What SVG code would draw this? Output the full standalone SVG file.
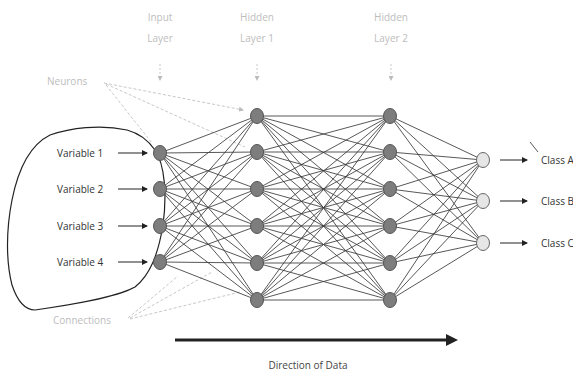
<svg xmlns="http://www.w3.org/2000/svg" width="573" height="374" viewBox="0 0 573 374">
<style>
text{font-family:"Open Sans","Liberation Sans",sans-serif;font-size:10px}
.lbl{fill:#bdbdbd}
.dark{fill:#333}
.c line{stroke:#3a3a3a;stroke-width:0.85}
.n{fill:#7d7d7d;stroke:#555;stroke-width:1}
.o{fill:#e6e6e6;stroke:#666;stroke-width:1}
.arr{stroke:#222;stroke-width:1;marker-end:url(#ah)}
.faint{stroke:#c8c8c8;stroke-width:1;stroke-dasharray:3 2;fill:none}
</style>
<defs>
<marker id="ah" markerWidth="6" markerHeight="6" refX="5" refY="3" orient="auto" markerUnits="userSpaceOnUse"><path d="M0,0 L6,3 L0,6 Z" fill="#222"/></marker>
<marker id="fh" markerWidth="5" markerHeight="5" refX="4" refY="2.5" orient="auto" markerUnits="userSpaceOnUse"><path d="M0,0 L5,2.5 L0,5 Z" fill="#bbb"/></marker>
</defs>
<rect width="573" height="374" fill="#fff"/>
<g id="labels">
<text class="lbl" x="160" y="21" text-anchor="middle">Input</text>
<text class="lbl" x="160" y="42" text-anchor="middle">Layer</text>
<text class="lbl" x="257" y="21" text-anchor="middle">Hidden</text>
<text class="lbl" x="257" y="42" text-anchor="middle">Layer 1</text>
<text class="lbl" x="391" y="21" text-anchor="middle">Hidden</text>
<text class="lbl" x="391" y="42" text-anchor="middle">Layer 2</text>
<line x1="160" y1="64" x2="160" y2="80" stroke="#bbb" stroke-width="0.8" stroke-dasharray="2 2" marker-end="url(#fh)"/>
<line x1="257" y1="64" x2="257" y2="80" stroke="#bbb" stroke-width="0.8" stroke-dasharray="2 2" marker-end="url(#fh)"/>
<line x1="391" y1="64" x2="391" y2="80" stroke="#bbb" stroke-width="0.8" stroke-dasharray="2 2" marker-end="url(#fh)"/>
<text class="lbl" x="47" y="85">Neurons</text>
<line class="faint" x1="104" y1="83" x2="243" y2="110" marker-end="url(#fh)"/>
<line class="faint" x1="106" y1="85" x2="152" y2="143"/>
<line class="faint" x1="106" y1="84" x2="245" y2="147"/>
<text class="lbl" x="53" y="324">Connections</text>
<line class="faint" x1="128" y1="318" x2="178" y2="276"/>
<line class="faint" x1="130" y1="318" x2="212" y2="272"/>
<line class="faint" x1="130" y1="319" x2="240" y2="292"/>
</g>
<path id="blob" d="M127,130 C100,124 70,128 50,135 C30,145 18,170 12,200 C6,230 6,262 12,285 C17,300 25,310 35,310 C70,305 115,298 135,287 C150,275 158,255 163,225 C167,195 165,165 155,150 C148,140 138,133 127,130 Z" fill="none" stroke="#222" stroke-width="1.2"/>
<g id="inputs">
<text class="dark" x="57" y="157">Variable 1</text>
<text class="dark" x="57" y="193">Variable 2</text>
<text class="dark" x="57" y="230">Variable 3</text>
<text class="dark" x="57" y="266">Variable 4</text>
<line class="arr" x1="118" y1="153" x2="147" y2="153"/>
<line class="arr" x1="118" y1="189" x2="147" y2="189"/>
<line class="arr" x1="118" y1="226" x2="147" y2="226"/>
<line class="arr" x1="118" y1="262" x2="147" y2="262"/>
</g>
<g id="connectors" class="c">
<line x1="160" y1="153" x2="257" y2="116"/><line x1="160" y1="153" x2="257" y2="152"/><line x1="160" y1="153" x2="257" y2="189"/><line x1="160" y1="153" x2="257" y2="226"/><line x1="160" y1="153" x2="257" y2="263"/><line x1="160" y1="153" x2="257" y2="300"/>
<line x1="160" y1="189" x2="257" y2="116"/><line x1="160" y1="189" x2="257" y2="152"/><line x1="160" y1="189" x2="257" y2="189"/><line x1="160" y1="189" x2="257" y2="226"/><line x1="160" y1="189" x2="257" y2="263"/><line x1="160" y1="189" x2="257" y2="300"/>
<line x1="160" y1="226" x2="257" y2="116"/><line x1="160" y1="226" x2="257" y2="152"/><line x1="160" y1="226" x2="257" y2="189"/><line x1="160" y1="226" x2="257" y2="226"/><line x1="160" y1="226" x2="257" y2="263"/><line x1="160" y1="226" x2="257" y2="300"/>
<line x1="160" y1="262" x2="257" y2="116"/><line x1="160" y1="262" x2="257" y2="152"/><line x1="160" y1="262" x2="257" y2="189"/><line x1="160" y1="262" x2="257" y2="226"/><line x1="160" y1="262" x2="257" y2="263"/><line x1="160" y1="262" x2="257" y2="300"/>
<line x1="257" y1="116" x2="390" y2="116"/><line x1="257" y1="116" x2="390" y2="152"/><line x1="257" y1="116" x2="390" y2="189"/><line x1="257" y1="116" x2="390" y2="226"/><line x1="257" y1="116" x2="390" y2="263"/><line x1="257" y1="116" x2="390" y2="300"/>
<line x1="257" y1="152" x2="390" y2="116"/><line x1="257" y1="152" x2="390" y2="152"/><line x1="257" y1="152" x2="390" y2="189"/><line x1="257" y1="152" x2="390" y2="226"/><line x1="257" y1="152" x2="390" y2="263"/><line x1="257" y1="152" x2="390" y2="300"/>
<line x1="257" y1="189" x2="390" y2="116"/><line x1="257" y1="189" x2="390" y2="152"/><line x1="257" y1="189" x2="390" y2="189"/><line x1="257" y1="189" x2="390" y2="226"/><line x1="257" y1="189" x2="390" y2="263"/><line x1="257" y1="189" x2="390" y2="300"/>
<line x1="257" y1="226" x2="390" y2="116"/><line x1="257" y1="226" x2="390" y2="152"/><line x1="257" y1="226" x2="390" y2="189"/><line x1="257" y1="226" x2="390" y2="226"/><line x1="257" y1="226" x2="390" y2="263"/><line x1="257" y1="226" x2="390" y2="300"/>
<line x1="257" y1="263" x2="390" y2="116"/><line x1="257" y1="263" x2="390" y2="152"/><line x1="257" y1="263" x2="390" y2="189"/><line x1="257" y1="263" x2="390" y2="226"/><line x1="257" y1="263" x2="390" y2="263"/><line x1="257" y1="263" x2="390" y2="300"/>
<line x1="257" y1="300" x2="390" y2="116"/><line x1="257" y1="300" x2="390" y2="152"/><line x1="257" y1="300" x2="390" y2="189"/><line x1="257" y1="300" x2="390" y2="226"/><line x1="257" y1="300" x2="390" y2="263"/><line x1="257" y1="300" x2="390" y2="300"/>
<line x1="390" y1="116" x2="483" y2="160"/><line x1="390" y1="116" x2="483" y2="201"/><line x1="390" y1="116" x2="483" y2="243"/>
<line x1="390" y1="152" x2="483" y2="160"/><line x1="390" y1="152" x2="483" y2="201"/><line x1="390" y1="152" x2="483" y2="243"/>
<line x1="390" y1="189" x2="483" y2="160"/><line x1="390" y1="189" x2="483" y2="201"/><line x1="390" y1="189" x2="483" y2="243"/>
<line x1="390" y1="226" x2="483" y2="160"/><line x1="390" y1="226" x2="483" y2="201"/><line x1="390" y1="226" x2="483" y2="243"/>
<line x1="390" y1="263" x2="483" y2="160"/><line x1="390" y1="263" x2="483" y2="201"/><line x1="390" y1="263" x2="483" y2="243"/>
<line x1="390" y1="300" x2="483" y2="160"/><line x1="390" y1="300" x2="483" y2="201"/><line x1="390" y1="300" x2="483" y2="243"/>
</g>
<g id="input-layer">
<ellipse class="n" cx="160" cy="153" rx="6.5" ry="7.5"/>
<ellipse class="n" cx="160" cy="189" rx="6.5" ry="7.5"/>
<ellipse class="n" cx="160" cy="226" rx="6.5" ry="7.5"/>
<ellipse class="n" cx="160" cy="262" rx="6.5" ry="7.5"/>
</g>
<g id="hidden-layer-1">
<ellipse class="n" cx="257" cy="116" rx="6.5" ry="7.5"/>
<ellipse class="n" cx="257" cy="152" rx="6.5" ry="7.5"/>
<ellipse class="n" cx="257" cy="189" rx="6.5" ry="7.5"/>
<ellipse class="n" cx="257" cy="226" rx="6.5" ry="7.5"/>
<ellipse class="n" cx="257" cy="263" rx="6.5" ry="7.5"/>
<ellipse class="n" cx="257" cy="300" rx="6.5" ry="7.5"/>
</g>
<g id="hidden-layer-2">
<ellipse class="n" cx="390" cy="116" rx="6.5" ry="7.5"/>
<ellipse class="n" cx="390" cy="152" rx="6.5" ry="7.5"/>
<ellipse class="n" cx="390" cy="189" rx="6.5" ry="7.5"/>
<ellipse class="n" cx="390" cy="226" rx="6.5" ry="7.5"/>
<ellipse class="n" cx="390" cy="263" rx="6.5" ry="7.5"/>
<ellipse class="n" cx="390" cy="300" rx="6.5" ry="7.5"/>
</g>
<g id="output-layer">
<ellipse class="o" cx="483" cy="160" rx="6.5" ry="7.5"/>
<ellipse class="o" cx="483" cy="201" rx="6.5" ry="7.5"/>
<ellipse class="o" cx="483" cy="243" rx="6.5" ry="7.5"/>
<line class="arr" x1="500" y1="160" x2="527" y2="160"/>
<line class="arr" x1="500" y1="201" x2="527" y2="201"/>
<line class="arr" x1="500" y1="243" x2="527" y2="243"/>
<line x1="530" y1="142" x2="538" y2="152" stroke="#444" stroke-width="0.9"/>
<text class="dark" x="541" y="164">Class A</text>
<text class="dark" x="541" y="205">Class B</text>
<text class="dark" x="541" y="247">Class C</text>
</g>
<g id="direction">
<line x1="175" y1="340" x2="448" y2="340" stroke="#222" stroke-width="3"/>
<path d="M446,334 L458,340 L446,346 Z" fill="#222"/>
<text x="308" y="369" text-anchor="middle" fill="#444">Direction of Data</text>
</g>
</svg>
